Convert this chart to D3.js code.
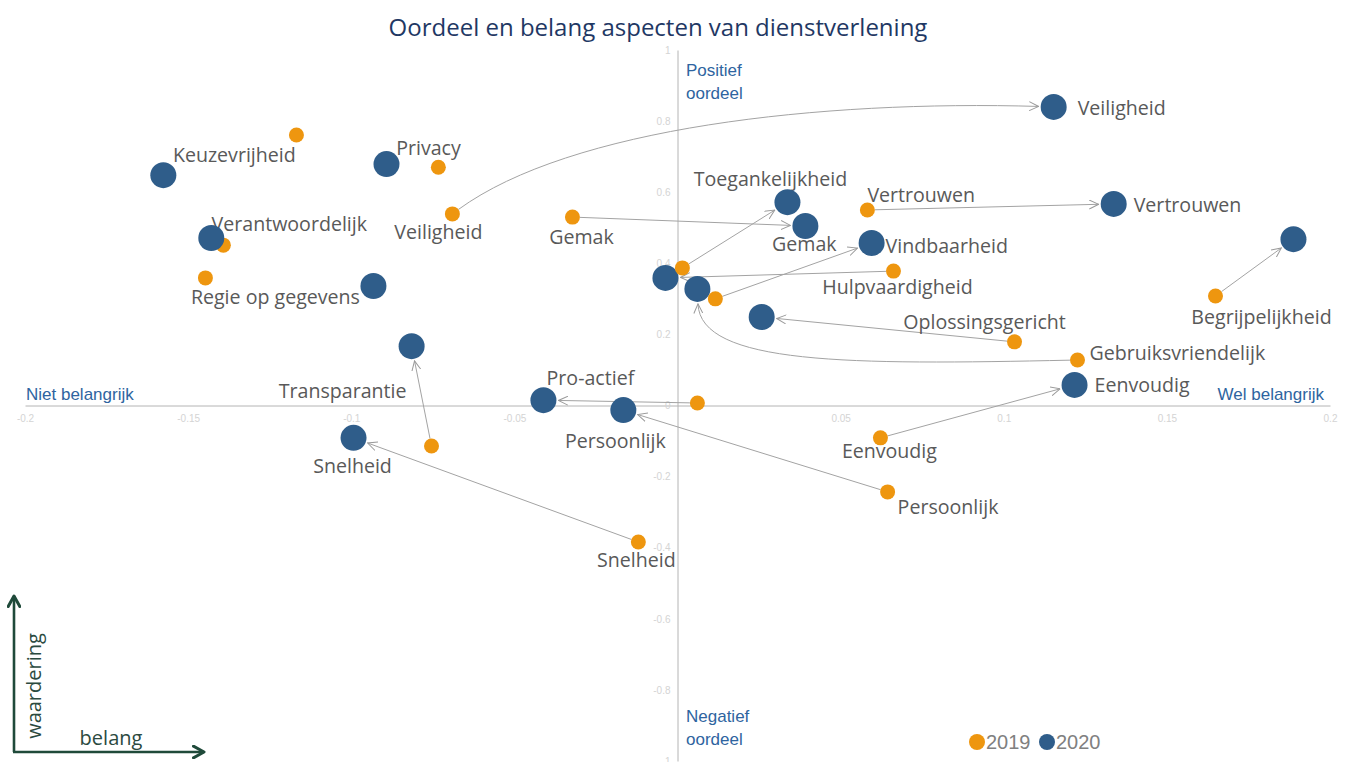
<!DOCTYPE html>
<html><head><meta charset="utf-8">
<script src="https://cdn.jsdelivr.net/npm/d3@7"></script>
<style>
html,body{margin:0;padding:0;background:#fff;}
svg{display:block;}
</style></head>
<body>
<svg id="chart" width="1349" height="762"></svg>
<script>
// ---------- data ----------
const items = ["Veiligheid","Vertrouwen","Begrijpelijkheid","Toegankelijkheid","Gemak","Vindbaarheid",
  "Hulpvaardigheid","Oplossingsgericht","Gebruiksvriendelijk","Eenvoudig","Persoonlijk","Snelheid",
  "Pro-actief","Transparantie","Keuzevrijheid","Privacy","Verantwoordelijk","Regie op gegevens"];
// belang (x) and oordeel (y), 2019
const belang2019 = [-0.069,0.0582,0.1649,0.0015,-0.0322,0.0116,0.0662,0.1033,0.1226,0.0622,0.0644,-0.012,0.0061,-0.0754,-0.1168,-0.0733,-0.1392,-0.1447];
const oordeel2019 = [0.539,0.550,0.308,0.387,0.530,0.300,0.378,0.179,0.128,-0.091,-0.243,-0.384,0.007,-0.114,0.761,0.670,0.451,0.359];
// 2020
const belang2020 = [0.1153,0.1337,0.1888,0.0337,0.0392,0.0595,-0.0037,0.0258,0.0061,0.1217,-0.0166,-0.0993,-0.0411,-0.0815,-0.1576,-0.0892,-0.1429,-0.0932];
const oordeel2020 = [0.840,0.567,0.468,0.572,0.505,0.457,0.359,0.249,0.328,0.058,-0.013,-0.091,0.015,0.167,0.648,0.679,0.471,0.336];
// which items get a change arrow 2019 -> 2020
const hasArrow = [1,1,1,1,1,1,1,1,1,1,1,1,1,1,0,0,0,0];
const xTicks = [-0.2,-0.15,-0.1,-0.05,0,0.05,0.1,0.15,0.2];
const yTicks = [-1,-0.8,-0.6,-0.4,-0.2,0,0.2,0.4,0.6,0.8,1];
const years = ["2019","2020"];

// ---------- layout / style (not data) ----------
const col19 = "#ee960f", col20 = "#2f5d8a";
// label placement: [anchor, dx, dy] relative to point, null = no label
const lab2019 = [["middle",-14,25],["start",0,-8],["middle",46,28],null,["middle",9,27],null,
  ["middle",4,23],["middle",-30,-13],["start",12,0],["middle",9,20],["start",10,22],["middle",-2,25],
  null,null,null,null,null,null];
const lab2020 = [["start",24,8],["start",20,8],null,["middle",-17,-16],["middle",-1,25],["start",14,10],
  null,null,null,["start",20,7],["middle",-8,38],["middle",-1,35],
  ["middle",47,-15],["middle",-69,52],["middle",71,-13],["middle",42,-9],["middle",78,-7],["middle",-98,18]];
// cubic curve shape for some arrows: [along1, perp1, along2, perp2] as fractions of length
const curve = {"Veiligheid":[0.215,-0.105,-0.374,-0.078],"Gebruiksvriendelijk":[0.575,-0.1205,-0.0437,-0.192]};

const svg = d3.select("#chart");
const x = d3.scaleLinear().domain([-0.2,0.2]).range([25,1330]);
const y = d3.scaleLinear().domain([-1,1]).range([761,50]);

const fmt = d => d===0 ? "0" : String(+d.toFixed(2));

// markers
const defs = svg.append("defs");
defs.append("marker").attr("id","ah").attr("viewBox","0 0 10 10")
  .attr("refX",9.5).attr("refY",5).attr("markerWidth",10).attr("markerHeight",10)
  .attr("markerUnits","userSpaceOnUse").attr("orient","auto")
  .append("path").attr("d","M0,0.5 L9.5,5 L0,9.5").attr("fill","none").attr("stroke","#9a9a9a").attr("stroke-width",1);
defs.append("marker").attr("id","gh").attr("viewBox","0 0 12 12")
  .attr("refX",10).attr("refY",6).attr("markerWidth",14).attr("markerHeight",14)
  .attr("markerUnits","userSpaceOnUse").attr("orient","auto")
  .append("path").attr("d","M1,1 L10,6 L1,11").attr("fill","none").attr("stroke","#1f4a3a").attr("stroke-width",2.6).attr("stroke-linecap","round").attr("stroke-linejoin","round");

// title
svg.append("text").attr("x",658).attr("y",36).attr("text-anchor","middle")
  .style("font-family","'Open Sans', sans-serif").style("font-size","24px").style("fill","#1f3864")
  .text("Oordeel en belang aspecten van dienstverlening");

// axes
const gx = svg.append("g").attr("transform",`translate(0,${y(0)})`)
  .call(d3.axisBottom(x).tickValues(xTicks).tickSize(0).tickPadding(9).tickFormat(fmt));
const gy = svg.append("g").attr("transform",`translate(${x(0)},0)`)
  .call(d3.axisLeft(y).tickValues(yTicks).tickSize(0).tickPadding(7).tickFormat(fmt));
[gx,gy].forEach(g=>{
  g.select(".domain").attr("stroke","#b4b4b4").attr("stroke-width",1);
  g.selectAll("text").style("font-family","'Liberation Sans Narrow','Liberation Sans',sans-serif")
    .style("font-size","10px").style("fill","#d4d4d4");
});
gx.selectAll(".tick").filter(d=>d===0).remove();

// quadrant labels
const qStyle = s => s.style("font-family","'Liberation Sans Narrow','Liberation Sans',sans-serif")
  .style("font-size","17px").style("fill","#2e64a0");
qStyle(svg.append("text").attr("x",686).attr("y",76).text("Positief"));
qStyle(svg.append("text").attr("x",686).attr("y",99).text("oordeel"));
qStyle(svg.append("text").attr("x",686).attr("y",722).text("Negatief"));
qStyle(svg.append("text").attr("x",686).attr("y",745).text("oordeel"));
qStyle(svg.append("text").attr("x",26).attr("y",400).text("Niet belangrijk"));
qStyle(svg.append("text").attr("x",1324).attr("y",400).attr("text-anchor","end").text("Wel belangrijk"));

// arrows
const R19 = 7.5, R20 = 13;
const aG = svg.append("g");
items.forEach((name,i)=>{
  if(!hasArrow[i]) return;
  const x0 = x(belang2019[i]), y0 = y(oordeel2019[i]);
  const x1 = x(belang2020[i]), y1 = y(oordeel2020[i]);
  const dx = x1-x0, dy = y1-y0, L = Math.hypot(dx,dy), ux = dx/L, uy = dy/L;
  const nx = -uy, ny = ux;
  const c = curve[name];
  if(c){
    const c1 = [x0 + c[0]*L*ux + c[1]*L*nx, y0 + c[0]*L*uy + c[1]*L*ny];
    const c2 = [x1 + c[2]*L*ux + c[3]*L*nx, y1 + c[2]*L*uy + c[3]*L*ny];
    const sx = c1[0]-x0, sy = c1[1]-y0, sl = Math.hypot(sx,sy);
    const ex = x1-c2[0], ey = y1-c2[1], el = Math.hypot(ex,ey);
    const ps = [x0+sx/sl*R19, y0+sy/sl*R19];
    const pe = [x1-ex/el*(R20+2), y1-ey/el*(R20+2)];
    aG.append("path").attr("d",`M${ps[0]},${ps[1]} C${c1[0]},${c1[1]} ${c2[0]},${c2[1]} ${pe[0]},${pe[1]}`)
      .attr("fill","none").attr("stroke","#a3a3a3").attr("stroke-width",1).attr("marker-end","url(#ah)");
  } else {
    aG.append("line").attr("x1",x0+ux*R19).attr("y1",y0+uy*R19)
      .attr("x2",x1-ux*(R20+2)).attr("y2",y1-uy*(R20+2))
      .attr("stroke","#a3a3a3").attr("stroke-width",1).attr("marker-end","url(#ah)");
  }
});

// labels
const lG = svg.append("g").style("font-family","'Open Sans', sans-serif").style("font-size","19.6px").style("fill","#595959");
items.forEach((name,i)=>{
  const l19 = lab2019[i], l20 = lab2020[i];
  if(l19) lG.append("text").attr("x",x(belang2019[i])+l19[1]).attr("y",y(oordeel2019[i])+l19[2]).attr("text-anchor",l19[0]).text(name);
  if(l20) lG.append("text").attr("x",x(belang2020[i])+l20[1]).attr("y",y(oordeel2020[i])+l20[2]).attr("text-anchor",l20[0]).text(name);
});

// points
const pG = svg.append("g");
const idx = d3.range(items.length);
pG.selectAll("circle.p20").data(idx).join("circle").attr("class","p20")
  .attr("cx",i=>x(belang2020[i])).attr("cy",i=>y(oordeel2020[i])).attr("r",R20).attr("fill",col20);
pG.selectAll("circle.p19").data(idx).join("circle").attr("class","p19")
  .attr("cx",i=>x(belang2019[i])).attr("cy",i=>y(oordeel2019[i])).attr("r",R19).attr("fill",col19);
pG.selectAll("circle.p20").filter(i=>items[i]==="Verantwoordelijk").raise();

// legend
const leg = svg.append("g").style("font-family","'Liberation Sans',Arial,sans-serif").style("font-size","20px").style("fill","#808080");
[col19,col20].forEach((c,k)=>{
  const lx = 977 + k*70;
  leg.append("circle").attr("cx",lx).attr("cy",742).attr("r",8).attr("fill",c);
  leg.append("text").attr("x",lx+9).attr("y",749).text(years[k]);
});

// orientation arrows bottom-left
const gA = svg.append("g");
gA.append("line").attr("x1",14).attr("y1",752).attr("x2",14).attr("y2",596)
  .attr("stroke","#1f4a3a").attr("stroke-width",2.6).attr("marker-end","url(#gh)");
gA.append("line").attr("x1",13).attr("y1",752).attr("x2",204).attr("y2",752)
  .attr("stroke","#1f4a3a").attr("stroke-width",2.6).attr("marker-end","url(#gh)");
gA.append("text").attr("transform","translate(41,686) rotate(-90)").attr("text-anchor","middle")
  .style("font-family","'Open Sans',sans-serif").style("font-size","20px").style("fill","#2b4a3f").text("waardering");
gA.append("text").attr("x",111).attr("y",745).attr("text-anchor","middle")
  .style("font-family","'Open Sans',sans-serif").style("font-size","20px").style("fill","#2b4a3f").text("belang");
</script>
</body></html>
